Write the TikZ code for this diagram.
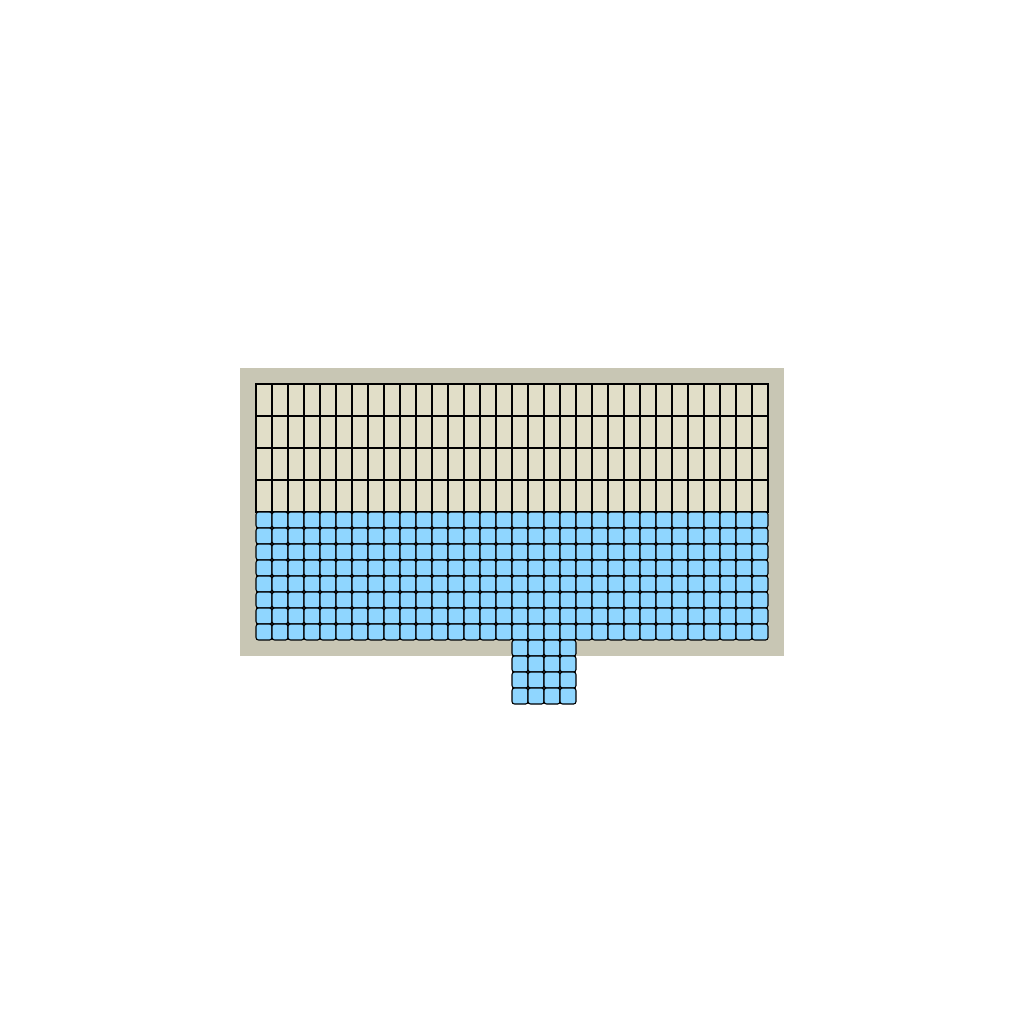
\documentclass[tikz,border=0pt]{standalone}
\usepackage{tikz}
\definecolor{frame}{RGB}{200,198,180}
\definecolor{tan}{RGB}{225,222,200}
\definecolor{cell}{RGB}{143,214,255}
\tikzset{
  tancell/.style={fill=tan,draw=black,line width=1.1pt},
  bluecell/.style={fill=cell,draw=black,line width=1.1pt,rounded corners=2.5pt}
}
\begin{document}
\begin{tikzpicture}[x=1pt,y=-1pt]
\useasboundingbox[fill=white] (0,0) rectangle (1024,1024);
\fill[frame] (240,368) rectangle (784,656);
\foreach \i in {0,...,31}{
  \foreach \j in {0,...,3}{
    \draw[tancell] ({256+16*\i},{384+32*\j}) rectangle ++(16,32);
  }
  \foreach \j in {0,...,7}{
    \draw[bluecell] ({256+16*\i},{512+16*\j}) rectangle ++(16,16);
  }
}
\foreach \i in {0,...,3}{
  \foreach \j in {0,...,3}{
    \draw[bluecell] ({512+16*\i},{640+16*\j}) rectangle ++(16,16);
  }
}
\end{tikzpicture}
\end{document}
